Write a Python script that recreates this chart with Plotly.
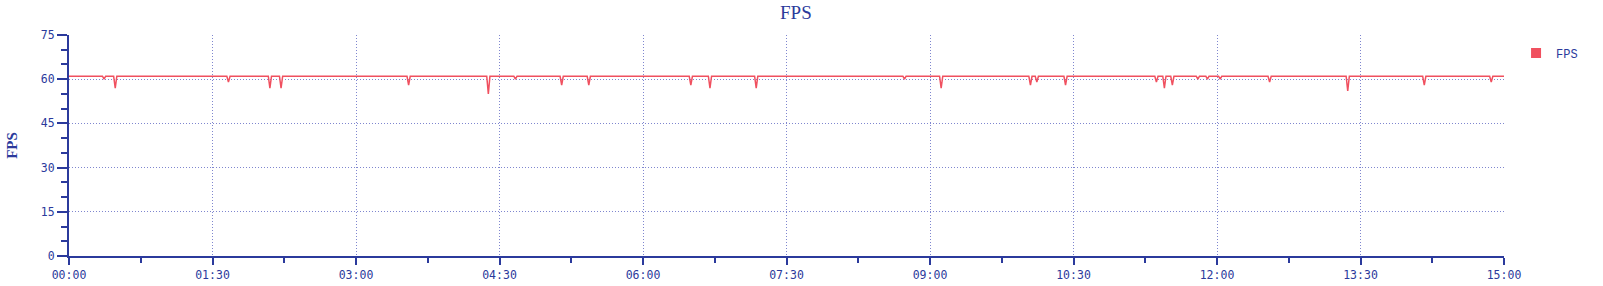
import plotly.graph_objects as go

# ---- data ----
duration_sec = 900
baseline_fps = 61
dip_sec = [22, 29, 100, 126, 133, 213, 263, 280, 309, 326, 390, 402, 431,
           524, 547, 603, 607, 625, 682, 687, 692, 708, 714, 722, 753, 802,
           850, 892]
dip_fps = [60, 57, 59, 57, 57, 58, 55, 60, 58, 58, 58, 57, 57,
           60, 57, 58, 59, 58, 59, 57, 58, 60, 60, 60, 59, 56,
           58, 59]
tick_sec = [0, 90, 180, 270, 360, 450, 540, 630, 720, 810, 900]
tick_labels = ["00:00", "01:30", "03:00", "04:30", "06:00", "07:30",
               "09:00", "10:30", "12:00", "13:30", "15:00"]
minor_sec = [45, 135, 225, 315, 405, 495, 585, 675, 765, 855]
y_ticks = [0, 15, 30, 45, 60, 75]

# build sampled series (1 sample per second around each dip)
xs, ys = [0], [baseline_fps]
for t, v in zip(dip_sec, dip_fps):
    xs += [t - 1, t, t + 1]
    ys += [baseline_fps, v, baseline_fps]
xs.append(duration_sec)
ys.append(baseline_fps)

BLUE = "#2b3a9c"
RED = "#f0505f"
GRID = "#7f86cf"
TICKFONT = dict(family="DejaVu Sans Mono", size=11.5, color=BLUE)

fig = go.Figure()
fig.add_trace(go.Scatter(x=xs, y=ys, mode="lines", name="FPS",
                         line=dict(color=RED, width=1.5), showlegend=False))
fig.add_trace(go.Scatter(x=[None], y=[None], mode="markers", name="FPS",
                         marker=dict(symbol="square", size=10, color=RED)))

fig.update_layout(
    width=1603, height=286,
    margin=dict(l=69, r=99, t=35, b=30),
    paper_bgcolor="white", plot_bgcolor="white",
    title=dict(text="FPS", x=0.4965, xref="container", y=0.956, yref="container",
               xanchor="center", yanchor="middle",
               font=dict(family="Liberation Serif", size=19, color=BLUE)),
    legend=dict(x=1.0084, y=0.918, xanchor="left", yanchor="middle",
                font=dict(family="Liberation Mono", size=12, color=BLUE),
                bgcolor="rgba(0,0,0,0)", itemwidth=30),
    xaxis=dict(range=[0, duration_sec], tickmode="array", tickvals=tick_sec,
               ticktext=tick_labels, ticks="outside", ticklen=7, tickwidth=1.5,
               tickcolor=BLUE, showline=True, linecolor=BLUE, linewidth=2,
               showgrid=True, gridcolor=GRID, griddash="1px,2px", gridwidth=1,
               zeroline=False, automargin=False, tickfont=TICKFONT,
               minor=dict(tickmode="array", tickvals=minor_sec, ticks="outside",
                          ticklen=5, tickcolor=BLUE, tickwidth=1.5, showgrid=False)),
    yaxis=dict(range=[0, 75], tickmode="array", tickvals=y_ticks,
               ticks="outside", ticklen=10, tickwidth=1.5, tickcolor=BLUE,
               showline=True, linecolor=BLUE, linewidth=2,
               showgrid=True, gridcolor=GRID, griddash="1px,2px", gridwidth=1,
               zeroline=False, automargin=False, tickfont=TICKFONT,
               title=dict(text="<b>FPS</b>", standoff=20,
                          font=dict(family="Liberation Serif", size=15, color=BLUE)),
               minor=dict(dtick=5, tick0=0, ticks="outside", ticklen=6,
                          tickcolor=BLUE, tickwidth=1.5, showgrid=False)),
)

fig.write_html("out.html")
